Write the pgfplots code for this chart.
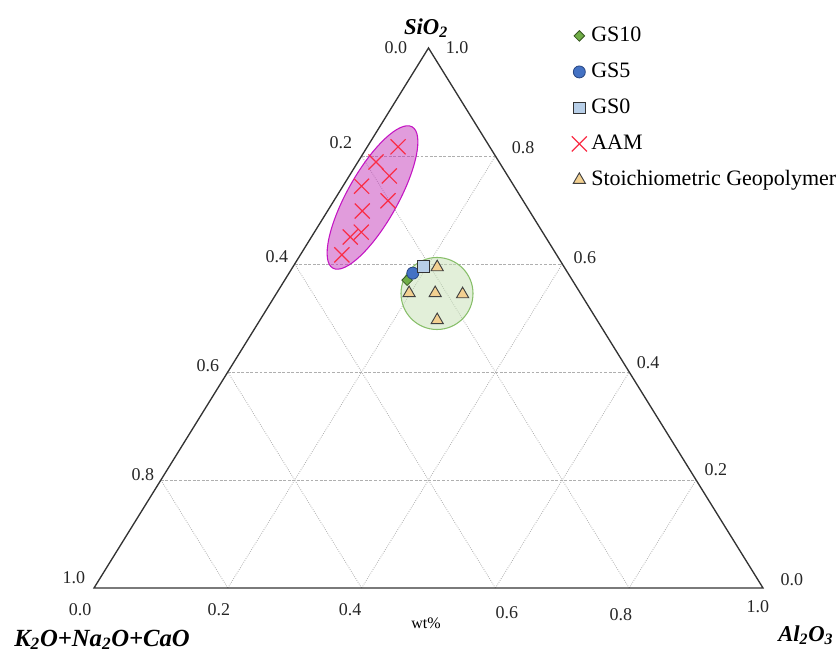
\documentclass[border=0pt]{standalone}
\usepackage{fontspec}
\setmainfont{Liberation Serif}
\usepackage{pgfplots}
\pgfplotsset{compat=1.18}
\usepackage{pgfplotstable}

\definecolor{gsgreen}{RGB}{112,173,71}
\definecolor{gsgreendk}{RGB}{56,87,35}
\definecolor{gsblue}{RGB}{68,114,196}
\definecolor{gsbluedk}{RGB}{40,70,130}
\definecolor{gslight}{RGB}{184,207,232}
\definecolor{aamred}{RGB}{250,45,70}
\definecolor{stoich}{RGB}{242,208,145}
\definecolor{ellfill}{RGB}{195,57,186}
\definecolor{elldraw}{RGB}{195,20,195}
\definecolor{circfill}{RGB}{197,224,180}
\definecolor{circdraw}{RGB}{135,190,105}
\definecolor{gridc}{RGB}{175,175,175}

% ternary fractions: s = SiO2, a = Al2O3, k = K2O+Na2O+CaO
\pgfplotstableread{
s a k
0.817 0.046 0.137
0.789 0.027 0.184
0.763 0.060 0.177
0.744 0.028 0.228
0.717 0.081 0.202
0.698 0.052 0.250
0.659 0.070 0.271
0.650 0.058 0.292
0.617 0.062 0.321
}\aam

\pgfplotstableread{
s a k
0.594 0.216 0.190
0.546 0.198 0.256
0.546 0.237 0.217
0.544 0.279 0.177
0.496 0.265 0.239
}\stoichtab

\pgfplotstableread{
s a k
0.570 0.183 0.247
}\gsten

\pgfplotstableread{
s a k
0.583 0.185 0.232
}\gsfive

\pgfplotstableread{
s a k
0.596 0.194 0.210
}\gszero

\begin{document}
\begin{tikzpicture}[
  lab/.style={font=\fontsize{13.5}{15}\selectfont, text=black!85, inner sep=0pt},
  ttl/.style={font=\fontsize{17}{19}\selectfont\bfseries\itshape, inner sep=0pt},
]
\begin{axis}[
  scale only axis, width=501.75pt, height=405pt,
  xmin=0, xmax=1, ymin=0, ymax=1,
  axis lines=none, clip=false,
  legend cell align=left,
  legend image code/.code={\draw[#1] plot coordinates {(0pt,0pt)};},
  legend style={draw=none, fill=none, at={(0.7078,1.0463)}, anchor=north west,
    font=\fontsize{16.5}{19}\selectfont, row sep=12pt,
    nodes={inner sep=0pt, text height=12pt, text depth=3pt},
    /tikz/column 1/.style={column sep=3.3pt}},
]
% grid lines
\draw[gridc, dashed, dash pattern=on 2.2pt off 1.2pt, line width=0.6pt]
  (axis cs:0.1,0.2) -- (axis cs:0.9,0.2)
  (axis cs:0.2,0.4) -- (axis cs:0.8,0.4)
  (axis cs:0.3,0.6) -- (axis cs:0.7,0.6)
  (axis cs:0.4,0.8) -- (axis cs:0.6,0.8);
\draw[gridc, densely dotted, line width=0.6pt]
  (axis cs:0.2,0) -- (axis cs:0.6,0.8)
  (axis cs:0.4,0) -- (axis cs:0.7,0.6)
  (axis cs:0.6,0) -- (axis cs:0.8,0.4)
  (axis cs:0.8,0) -- (axis cs:0.9,0.2)
  (axis cs:0.8,0) -- (axis cs:0.4,0.8)
  (axis cs:0.6,0) -- (axis cs:0.3,0.6)
  (axis cs:0.4,0) -- (axis cs:0.2,0.4)
  (axis cs:0.2,0) -- (axis cs:0.1,0.2);
% triangle
\draw[black!80, line width=1pt, line join=miter]
  (axis cs:0,0) -- (axis cs:1,0) -- (axis cs:0.5,1) -- cycle;
% green circle
\draw[circdraw, line width=0.8pt, fill=circfill, fill opacity=0.5]
  (axis cs:0.51271,0.54537) circle [radius=27pt];

\addplot[only marks, mark=square*, mark size=2.8pt,
  mark options={rotate=45, fill=gsgreen, draw=gsgreendk, line width=0.6pt}]
  table[x expr=\thisrow{a}+0.5*\thisrow{s}, y=s] {\gsten};
\addlegendentry{GS10}
\addplot[only marks, mark=*, mark size=4.5pt,
  mark options={fill=gsblue, draw=gsbluedk, line width=0.6pt}]
  table[x expr=\thisrow{a}+0.5*\thisrow{s}, y=s] {\gsfive};
\addlegendentry{GS5}
\addplot[only marks, mark=square*, mark size=4.4pt,
  mark options={fill=gslight, draw=black!80, line width=0.7pt}]
  table[x expr=\thisrow{a}+0.5*\thisrow{s}, y=s] {\gszero};
\addlegendentry{GS0}
\addplot[only marks, mark=x, mark size=8pt,
  mark options={draw=aamred, line width=0.9pt}]
  table[x expr=\thisrow{a}+0.5*\thisrow{s}, y=s] {\aam};
\addlegendentry{AAM}
% magenta ellipse
\draw[elldraw, line width=0.8pt, fill=ellfill, fill opacity=0.5,
  rotate around={60.7:(axis cs:0.41629,0.72315)}]
  (axis cs:0.41629,0.72315) ellipse [x radius=60.75pt, y radius=19pt];
\addplot[only marks, mark=triangle*, mark size=5.3pt,
  mark options={fill=stoich, draw=black!75, line width=0.7pt}]
  table[x expr=\thisrow{a}+0.5*\thisrow{s}, y=s] {\stoichtab};
\addlegendentry{Stoichiometric Geopolymer}

% left labels
\node[lab] at (axis cs:0.4514,1.0) {0.0};
\node[lab] at (axis cs:0.3692,0.8241) {0.2};
\node[lab] at (axis cs:0.2735,0.6130) {0.4};
\node[lab] at (axis cs:0.1704,0.4111) {0.6};
\node[lab] at (axis cs:0.0732,0.2093) {0.8};
\node[lab] at (axis cs:-0.0299,0.0185) {1.0};
% right labels
\node[lab] at (axis cs:0.5426,1.0) {1.0};
\node[lab] at (axis cs:0.6413,0.8148) {0.8};
\node[lab] at (axis cs:0.7339,0.6111) {0.6};
\node[lab] at (axis cs:0.8281,0.4167) {0.4};
\node[lab] at (axis cs:0.9297,0.2185) {0.2};
\node[lab] at (axis cs:1.0433,0.0148) {0.0};
% bottom labels
\node[lab] at (axis cs:-0.0209,-0.0407) {0.0};
\node[lab] at (axis cs:0.1868,-0.0407) {0.2};
\node[lab] at (axis cs:0.3827,-0.0407) {0.4};
\node[lab] at (axis cs:0.6173,-0.0463) {0.6};
\node[lab] at (axis cs:0.7877,-0.0500) {0.8};
\node[lab] at (axis cs:0.9925,-0.0352) {1.0};
% titles
\node[ttl] at (axis cs:0.4963,1.037) {SiO\textsubscript{2}};
\node[ttl, font=\fontsize{18.5}{20}\selectfont\bfseries\itshape] at (axis cs:0.012,-0.0963) {K\textsubscript{2}O+Na\textsubscript{2}O+CaO};
\node[ttl, anchor=west] at (axis cs:1.0224,-0.087) {Al\textsubscript{2}O\textsubscript{3}};
\node[font=\fontsize{12}{14}\selectfont, inner sep=0pt] at (axis cs:0.4963,-0.0648) {wt\%};

\coordinate (bbl) at (axis cs:-0.140508,-0.118519);
\coordinate (btr) at (axis cs:1.110613,1.088889);
\end{axis}
\pgfresetboundingbox
\path[use as bounding box] (bbl) rectangle (btr);
\end{tikzpicture}
\end{document}
